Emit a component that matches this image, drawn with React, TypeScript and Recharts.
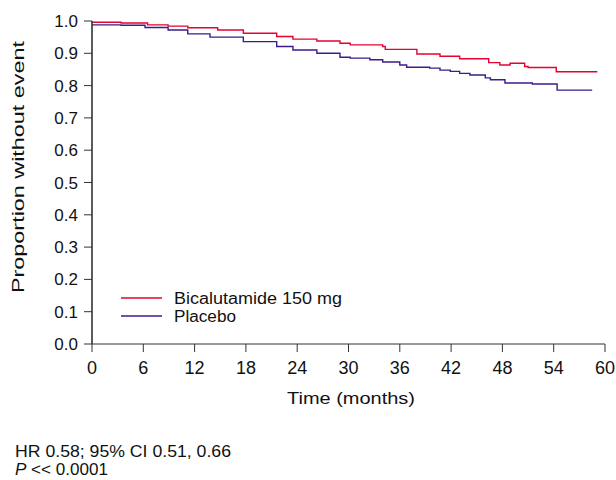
import React from 'react';
import { LineChart, Line, XAxis, YAxis, Legend, Label } from 'recharts';

const bicaMonths = [0, 3.4, 6.5, 8.9, 11.2, 14.7, 17.7, 21.6, 23.5, 26.3, 29.0, 30.2, 34.0, 34.3, 38.0, 40.7, 43.0, 46.4, 47.7, 48.9, 50.6, 51.0, 54.3, 59.1];
const bicaSurv = [0.996, 0.994, 0.988, 0.984, 0.979, 0.972, 0.962, 0.952, 0.944, 0.938, 0.931, 0.926, 0.921, 0.912, 0.898, 0.891, 0.883, 0.871, 0.864, 0.869, 0.859, 0.856, 0.843, 0.843];

const placeboMonths = [0, 3.4, 6.2, 8.9, 11.2, 13.8, 17.7, 21.6, 23.5, 26.3, 29.0, 30.2, 32.5, 34.0, 36.0, 36.8, 39.5, 40.7, 41.9, 43.0, 44.2, 46.0, 46.6, 48.3, 51.5, 54.4, 58.5];
const placeboSurv = [0.988, 0.987, 0.98, 0.972, 0.96, 0.95, 0.936, 0.921, 0.91, 0.9, 0.888, 0.885, 0.88, 0.873, 0.864, 0.857, 0.854, 0.848, 0.844, 0.838, 0.833, 0.824, 0.818, 0.808, 0.805, 0.786, 0.786];

const xTicks = [0, 6, 12, 18, 24, 30, 36, 42, 48, 54, 60];
const yTicks = [0, 0.1, 0.2, 0.3, 0.4, 0.5, 0.6, 0.7, 0.8, 0.9, 1.0];

const seriesNames = ['Bicalutamide 150 mg', 'Placebo'];
const seriesColors = ['#E4022E', '#3B1C8C'];

const bicaData = bicaMonths.map((m, i) => ({ month: m, value: bicaSurv[i] }));
const placeboData = placeboMonths.map((m, i) => ({ month: m, value: placeboSurv[i] }));

const FONT = '"Liberation Sans", Arial, sans-serif';
const FS = 16;
const AXIS = '#333';
const TEXT = '#111';

const renderLegend = (props: any) => {
  const payload = props.payload || [];
  const widths = [168, 62];
  return (
    <svg width={260} height={40} style={{ display: 'block' }}>
      {payload.map((p: any, i: number) => (
        <g key={i}>
          <line x1={6} x2={47} y1={9 + i * 18} y2={9 + i * 18} stroke={p.color} strokeWidth={1.4} />
          <text x={59} y={9 + i * 18} dominantBaseline="central" fill={TEXT} fontSize={FS} fontFamily={FONT}
            textLength={widths[i]} lengthAdjust="spacingAndGlyphs">
            {p.value}
          </text>
        </g>
      ))}
    </svg>
  );
};

export default function App() {
  return (
    <div style={{ position: 'absolute', left: 0, top: 0, width: 616, height: 480, background: '#fff', fontFamily: FONT }}>
      <LineChart width={616} height={420} margin={{ top: 21, right: 11, left: 0, bottom: 46 }}>
        <XAxis
          type="number"
          dataKey="month"
          domain={[0, 60]}
          ticks={xTicks}
          allowDataOverflow
          height={30}
          tickSize={8}
          tickMargin={9}
          stroke={AXIS}
          tick={{ fill: TEXT, fontSize: 18, fontFamily: FONT }}
          tickLine={{ stroke: AXIS }}
        >
          <Label
            content={() => (
              <text x={351} y={398} textAnchor="middle" dominantBaseline="central" fill={TEXT} fontSize={FS} fontFamily={FONT}
                textLength={128} lengthAdjust="spacingAndGlyphs">
                Time (months)
              </text>
            )}
          />
        </XAxis>
        <YAxis
          type="number"
          domain={[0, 1]}
          ticks={yTicks}
          width={92}
          tickSize={8}
          tickMargin={6}
          stroke={AXIS}
          strokeWidth={1.6}
          tickFormatter={(v: number) => v.toFixed(1)}
          tick={{ fill: TEXT, fontSize: 17, fontFamily: FONT }}
          tickLine={{ stroke: AXIS, strokeWidth: 1 }}
        >
          <Label
            content={() => (
              <text x={18} y={167} transform="rotate(-90 18 167)" textAnchor="middle" dominantBaseline="central" fill={TEXT} fontSize={FS} fontFamily={FONT}
                textLength={252} lengthAdjust="spacingAndGlyphs">
                Proportion without event
              </text>
            )}
          />
        </YAxis>
        <Legend
          layout="horizontal"
          verticalAlign="middle"
          content={renderLegend}
          wrapperStyle={{ position: 'absolute', left: 115, top: 289, width: 260 }}
        />
        <Line data={bicaData} dataKey="value" name={seriesNames[0]} type="stepAfter" stroke={seriesColors[0]} strokeWidth={1.4} dot={false} isAnimationActive={false} />
        <Line data={placeboData} dataKey="value" name={seriesNames[1]} type="stepAfter" stroke={seriesColors[1]} strokeWidth={1.4} dot={false} isAnimationActive={false} />
      </LineChart>
      <svg width={300} height={50} style={{ position: 'absolute', left: 0, top: 430 }}>
        <text x={15} y={21} dominantBaseline="central" fill={TEXT} fontSize={FS} fontFamily={FONT} textLength={216} lengthAdjust="spacingAndGlyphs">
          HR 0.58; 95% CI 0.51, 0.66
        </text>
        <text x={15} y={39} dominantBaseline="central" fill={TEXT} fontSize={FS} fontFamily={FONT} textLength={93} lengthAdjust="spacingAndGlyphs">
          <tspan fontStyle="italic">P</tspan> &lt;&lt; 0.0001
        </text>
      </svg>
    </div>
  );
}
